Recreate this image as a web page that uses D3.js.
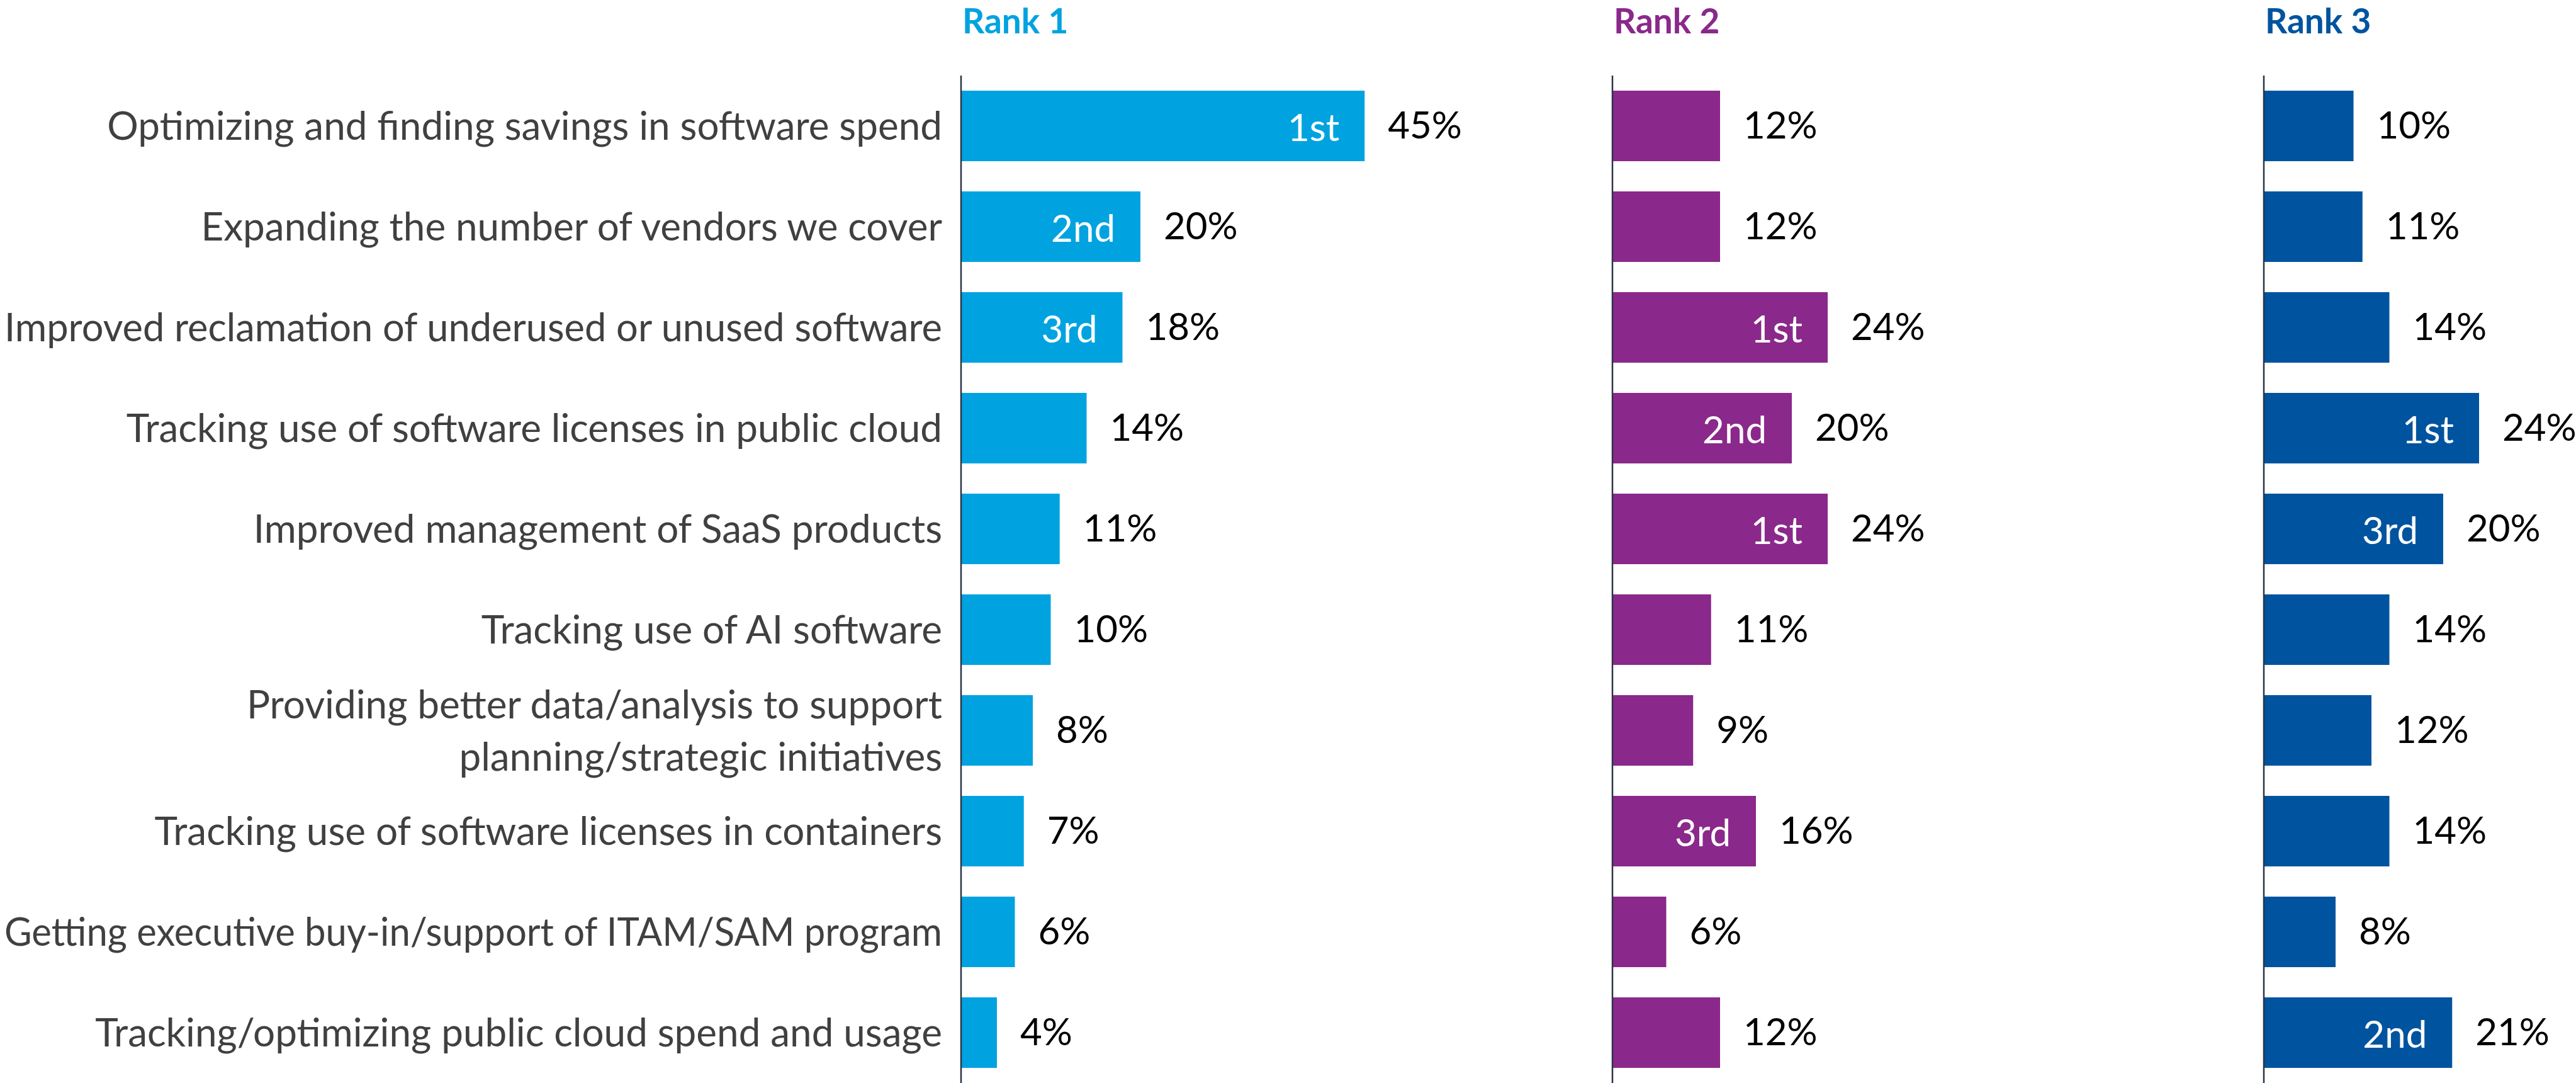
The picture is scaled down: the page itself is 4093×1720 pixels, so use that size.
<!DOCTYPE html>
<html>
<head>
<meta charset="utf-8">
<script src="https://cdn.jsdelivr.net/npm/d3@7"></script>
<style>
  html, body { margin: 0; padding: 0; background: #ffffff; }
  svg { display: block; }
</style>
</head>
<body>
<div id="chart"></div>
<script>
const categories = [
  "Optimizing and finding savings in software spend",
  "Expanding the number of vendors we cover",
  "Improved reclamation of underused or unused software",
  "Tracking use of software licenses in public cloud",
  "Improved management of SaaS products",
  "Tracking use of AI software",
  "Providing better data/analysis to support|planning/strategic initiatives",
  "Tracking use of software licenses in containers",
  "Getting executive buy-in/support of ITAM/SAM program",
  "Tracking/optimizing public cloud spend and usage"
];
const seriesNames = ["Rank 1", "Rank 2", "Rank 3"];
const rank1 = [45, 20, 18, 14, 11, 10, 8, 7, 6, 4];
const rank2 = [12, 12, 24, 20, 24, 11, 9, 16, 6, 12];
const rank3 = [10, 11, 14, 24, 20, 14, 12, 14, 8, 21];
const rank1Badges = ["1st", "2nd", "3rd", "", "", "", "", "", "", ""];
const rank2Badges = ["", "", "1st", "2nd", "1st", "", "", "3rd", "", ""];
const rank3Badges = ["", "", "", "1st", "3rd", "", "", "", "", "2nd"];

const seriesValues = [rank1, rank2, rank3];
const seriesBadges = [rank1Badges, rank2Badges, rank3Badges];
const seriesColors = ["#00a3e0", "#8b288b", "#00549f"];

const W = 4093, H = 1720;
const FONT = "Lato, 'Noto Sans', sans-serif";

const svg = d3.select("#chart").append("svg")
  .attr("width", W).attr("height", H);

const y = d3.scaleBand()
  .domain(categories)
  .range([120, 1720])
  .paddingInner(0.3)
  .paddingOuter(0.15);

const panel = d3.scaleBand()
  .domain(seriesNames)
  .range([1527, 1527 + 3 * 1035]);

const x = d3.scaleLinear().domain([0, 100]).range([0, 1425]);

// category labels
const labelRight = 1497;
const maxLabelWidth = 1490;
const labels = svg.append("g");
categories.forEach(c => {
  const lines = c.split("|");
  const cy = y(c) + y.bandwidth() / 2;
  const t = labels.append("text")
    .attr("text-anchor", "end")
    .attr("font-family", FONT)
    .attr("font-size", 62)
    .attr("fill", "#404040");
  const lh = 83;
  lines.forEach((ln, i) => {
    const ts = t.append("tspan")
      .attr("x", labelRight)
      .attr("y", cy + 22 + (i - (lines.length - 1) / 2) * lh)
      .text(ln);
    const w = ts.node().getComputedTextLength();
    if (w > maxLabelWidth) {
      ts.attr("textLength", maxLabelWidth).attr("lengthAdjust", "spacingAndGlyphs");
    }
  });
});

seriesNames.forEach((name, si) => {
  const px = panel(name);
  const g = svg.append("g").attr("transform", `translate(${px},0)`);
  const vals = seriesValues[si];
  const badges = seriesBadges[si];

  g.append("text")
    .attr("x", 2)
    .attr("y", 53)
    .attr("font-family", FONT)
    .attr("font-weight", 700)
    .attr("font-size", 55)
    .attr("fill", seriesColors[si])
    .text(name);

  g.selectAll("rect.bar")
    .data(categories)
    .join("rect")
    .attr("class", "bar")
    .attr("x", 0)
    .attr("y", d => y(d))
    .attr("width", (d, i) => x(vals[i]))
    .attr("height", y.bandwidth())
    .attr("fill", seriesColors[si]);

  g.selectAll("text.val")
    .data(categories)
    .join("text")
    .attr("class", "val")
    .attr("x", (d, i) => x(vals[i]) + 37)
    .attr("y", d => y(d) + y.bandwidth() / 2 + 20)
    .attr("font-family", FONT)
    .attr("font-size", 60)
    .attr("fill", "#000000")
    .text((d, i) => vals[i] + "%");

  g.selectAll("text.badge")
    .data(categories)
    .join("text")
    .attr("class", "badge")
    .attr("x", (d, i) => x(vals[i]) - 40)
    .attr("y", d => y(d) + y.bandwidth() / 2 + 24)
    .attr("text-anchor", "end")
    .attr("font-family", FONT)
    .attr("font-size", 60)
    .attr("fill", "#ffffff")
    .text((d, i) => badges[i]);

  g.append("line")
    .attr("x1", 0).attr("x2", 0)
    .attr("y1", 120).attr("y2", 1720)
    .attr("stroke", "#2b3445")
    .attr("stroke-width", 2.5);
});
</script>
</body>
</html>
